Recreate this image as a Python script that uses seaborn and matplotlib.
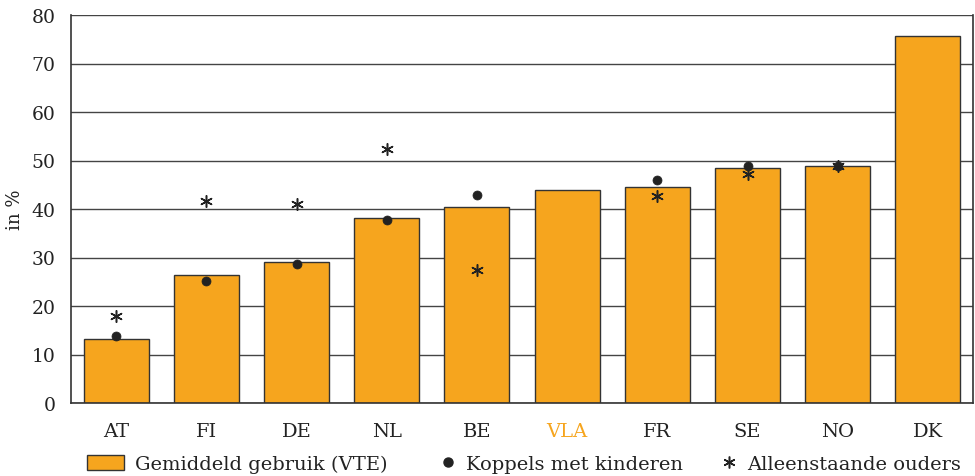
import numpy as np
import pandas as pd
import matplotlib
matplotlib.use("Agg")
import matplotlib.pyplot as plt
import seaborn as sns
from matplotlib.lines import Line2D
from matplotlib.patches import Patch

countries = ["AT", "FI", "DE", "NL", "BE", "VLA", "FR", "SE", "NO", "DK"]
gemiddeld = [13.2, 26.3, 29.0, 38.1, 40.4, 43.9, 44.6, 48.5, 48.9, 75.6]
koppels = [13.8, 25.1, 28.6, 37.7, 42.9, np.nan, 46.0, 48.9, 48.9, np.nan]
alleenstaand = [18.0, 41.7, 41.0, 52.4, 27.4, np.nan, 42.7, 47.3, 48.9, np.nan]
yticks = [0, 10, 20, 30, 40, 50, 60, 70, 80]

orange = "#F6A51E"
dark = "#222222"
asterisk = (6, 2, 0)

sns.set_theme(style="white")
plt.rcParams["font.family"] = ["DejaVu Serif"]

fig = plt.figure(figsize=(9.75, 4.77), dpi=100)
ax = fig.add_axes([71/975, 73/477, (973-71)/975, (461-73)/477])

df = pd.DataFrame({"land": countries, "gem": gemiddeld, "kop": koppels, "all": alleenstaand})

sns.barplot(data=df, x="land", y="gem", color=orange, saturation=1, width=0.72,
            edgecolor="#333333", linewidth=1.0, ax=ax, zorder=2)
sns.scatterplot(data=df, x="land", y="kop", color=dark, marker="o", s=42,
                edgecolor=dark, ax=ax, zorder=3)
sns.scatterplot(data=df, x="land", y="all", color=dark, marker=asterisk, s=70,
                linewidth=1.1, ax=ax, zorder=4)

ax.set_xlim(-0.5, 9.5)
ax.set_ylim(0, 80)
ax.set_yticks(yticks)
ax.set_yticklabels([str(v) for v in yticks], fontsize=13.5, color="#222222")
ax.yaxis.grid(True, color="#444444", linewidth=1.0)
ax.set_axisbelow(True)
ax.tick_params(axis="y", length=0, pad=11)
ax.tick_params(axis="x", length=0, pad=14, labelsize=14, labelcolor="#222222")
ax.set_xticks(range(len(countries)))
ax.set_xticklabels(countries)
ax.get_xticklabels()[5].set_color(orange)
ax.set_xticks(np.arange(0.5, 9.0, 1.0), minor=True)
ax.tick_params(axis="x", which="minor", direction="in", length=6, width=1.0, color="#333333")
ax.set_xlabel("")
ax.set_ylabel("in %", fontsize=13, color="#222222")
ax.yaxis.set_label_coords((24 - 71) / 902, 0.5)

for side in ["left", "bottom", "right"]:
    ax.spines[side].set_visible(True)
    ax.spines[side].set_color("#333333")
    ax.spines[side].set_linewidth(1.2)
ax.spines["top"].set_visible(False)

ly = 1 - 465/477
common = dict(loc="center left", frameon=False, fontsize=14, borderaxespad=0, borderpad=0)
leg1 = fig.legend(handles=[Patch(facecolor=orange, edgecolor="#333333", linewidth=1.0,
                                 label="Gemiddeld gebruik (VTE)")],
                  bbox_to_anchor=(87/975, ly), handlelength=1.9, handleheight=0.8,
                  handletextpad=0.55, **common)
leg2 = fig.legend(handles=[Line2D([], [], linestyle="none", marker="o", markersize=6.5,
                                  color=dark, label="Koppels met kinderen")],
                  bbox_to_anchor=(438/975, ly), handlelength=1.0, handletextpad=0.45, **common)
leg3 = fig.legend(handles=[Line2D([], [], linestyle="none", marker=asterisk, markersize=8.5,
                                  markeredgewidth=1.1, color=dark, label="Alleenstaande ouders")],
                  bbox_to_anchor=(719/975, ly), handlelength=1.0, handletextpad=0.45, **common)
for leg in (leg1, leg2, leg3):
    for t in leg.get_texts():
        t.set_color("#222222")

fig.savefig("out.png", dpi=100)
